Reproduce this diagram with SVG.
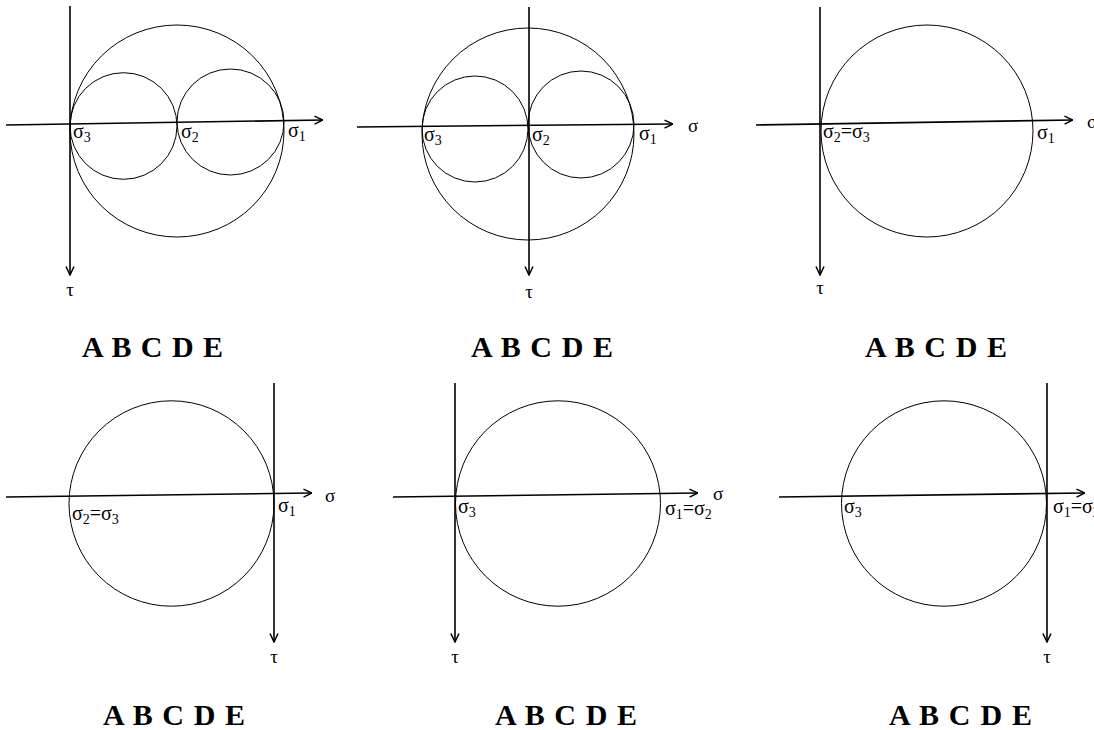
<svg xmlns="http://www.w3.org/2000/svg" width="1094" height="730" viewBox="0 0 1094 730">
<style>
.ax{stroke:#000;stroke-width:1.6;fill:none}
.c{stroke:#000;stroke-width:1;fill:none}
.lb{font-family:"Liberation Serif","Times New Roman",serif;font-size:20px;fill:#000}
.sub{font-size:14px}
.al{font-family:"Liberation Serif","Times New Roman",serif;font-size:19px;fill:#000}
.ans{font-family:"Liberation Serif","Times New Roman",serif;font-size:30px;font-weight:bold;fill:#000}
</style>
<defs>
<marker id="ah" viewBox="0 0 10 10" refX="9.5" refY="5" markerWidth="10" markerHeight="10" markerUnits="userSpaceOnUse" orient="auto">
<path d="M1,1 L9.5,5 L1,9" fill="none" stroke="#000" stroke-width="1.5"/>
</marker>
</defs>
<rect width="1094" height="730" fill="#fff"/>

<g id="connectors">
<line class="ax" x1="70" y1="6" x2="70" y2="275" marker-end="url(#ah)"/>
<line class="ax" x1="6" y1="125" x2="323" y2="120" marker-end="url(#ah)"/>
<line class="ax" x1="529" y1="7" x2="529" y2="275" marker-end="url(#ah)"/>
<line class="ax" x1="357" y1="127" x2="673" y2="124" marker-end="url(#ah)"/>
<line class="ax" x1="820" y1="7" x2="820" y2="275" marker-end="url(#ah)"/>
<line class="ax" x1="756" y1="125" x2="1073" y2="120" marker-end="url(#ah)"/>
<line class="ax" x1="274" y1="383" x2="274" y2="642" marker-end="url(#ah)"/>
<line class="ax" x1="6" y1="497" x2="312" y2="493" marker-end="url(#ah)"/>
<line class="ax" x1="455" y1="383" x2="455" y2="642" marker-end="url(#ah)"/>
<line class="ax" x1="393" y1="497" x2="698" y2="493" marker-end="url(#ah)"/>
<line class="ax" x1="1047" y1="383" x2="1047" y2="642" marker-end="url(#ah)"/>
<line class="ax" x1="779" y1="497" x2="1085" y2="493" marker-end="url(#ah)"/>
</g>

<g id="panel1">
<ellipse class="c" cx="177" cy="131" rx="107" ry="106"/>
<ellipse class="c" cx="123.5" cy="126" rx="53.5" ry="53.3"/>
<ellipse class="c" cx="230.5" cy="122" rx="53.5" ry="53"/>
<text class="lb" x="73" y="138">σ<tspan class="sub" dy="4">3</tspan></text>
<text class="lb" x="181" y="138">σ<tspan class="sub" dy="4">2</tspan></text>
<text class="lb" x="288" y="137">σ<tspan class="sub" dy="4">1</tspan></text>
<text class="al" x="70" y="296" text-anchor="middle">τ</text>
<text class="ans" x="82" y="357" textLength="141" lengthAdjust="spacing">A B C D E</text>
</g>

<g id="panel2">
<ellipse class="c" cx="528" cy="134" rx="106" ry="106"/>
<ellipse class="c" cx="475" cy="129" rx="53" ry="53"/>
<ellipse class="c" cx="581" cy="124.5" rx="53" ry="53.5"/>
<text class="lb" x="424" y="141">σ<tspan class="sub" dy="4">3</tspan></text>
<text class="lb" x="532" y="141">σ<tspan class="sub" dy="4">2</tspan></text>
<text class="lb" x="639" y="140">σ<tspan class="sub" dy="4">1</tspan></text>
<text class="al" x="688" y="132">σ</text>
<text class="al" x="529" y="298" text-anchor="middle">τ</text>
<text class="ans" x="471" y="357" textLength="142" lengthAdjust="spacing">A B C D E</text>
</g>

<g id="panel3">
<ellipse class="c" cx="927" cy="131" rx="106" ry="106"/>
<text class="lb" x="823" y="138">σ<tspan class="sub" dy="4">2</tspan><tspan dy="-4">=σ</tspan><tspan class="sub" dy="4">3</tspan></text>
<text class="lb" x="1037" y="139">σ<tspan class="sub" dy="4">1</tspan></text>
<text class="al" x="1087" y="128">σ</text>
<text class="al" x="820" y="294" text-anchor="middle">τ</text>
<text class="ans" x="865" y="357" textLength="142" lengthAdjust="spacing">A B C D E</text>
</g>

<g id="panel4">
<ellipse class="c" cx="171.5" cy="503.5" rx="102.5" ry="102.7"/>
<text class="lb" x="72" y="520">σ<tspan class="sub" dy="4">2</tspan><tspan dy="-4">=σ</tspan><tspan class="sub" dy="4">3</tspan></text>
<text class="lb" x="278" y="512">σ<tspan class="sub" dy="4">1</tspan></text>
<text class="al" x="325" y="502">σ</text>
<text class="al" x="274" y="663" text-anchor="middle">τ</text>
<text class="ans" x="103" y="725" textLength="142" lengthAdjust="spacing">A B C D E</text>
</g>

<g id="panel5">
<ellipse class="c" cx="558" cy="503.5" rx="102.5" ry="102.7"/>
<text class="lb" x="458" y="513">σ<tspan class="sub" dy="4">3</tspan></text>
<text class="lb" x="665" y="515">σ<tspan class="sub" dy="4">1</tspan><tspan dy="-4">=σ</tspan><tspan class="sub" dy="4">2</tspan></text>
<text class="al" x="713" y="500">σ</text>
<text class="al" x="455" y="663" text-anchor="middle">τ</text>
<text class="ans" x="495" y="725" textLength="142" lengthAdjust="spacing">A B C D E</text>
</g>

<g id="panel6">
<ellipse class="c" cx="944" cy="503.5" rx="102.5" ry="102.7"/>
<text class="lb" x="844" y="513">σ<tspan class="sub" dy="4">3</tspan></text>
<text class="lb" x="1053" y="513">σ<tspan class="sub" dy="4">1</tspan><tspan dy="-4">=σ</tspan><tspan class="sub" dy="4">2</tspan></text>
<text class="al" x="1047" y="663" text-anchor="middle">τ</text>
<text class="ans" x="889" y="725" textLength="143" lengthAdjust="spacing">A B C D E</text>
</g>
</svg>
